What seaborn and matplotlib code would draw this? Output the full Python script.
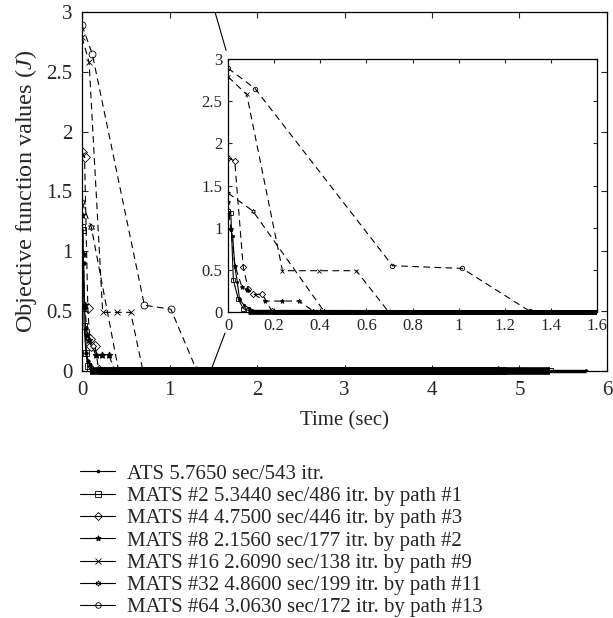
import matplotlib
matplotlib.use("Agg")
import matplotlib.pyplot as plt
from matplotlib.lines import Line2D
from matplotlib.transforms import Bbox, TransformedBbox
import seaborn as sns

# convergence traces: time (sec) vs objective function value J
ats_t = [0, 0.012, 0.02, 0.03, 0.04, 0.05, 0.07, 0.09, 0.12, 5.765]
ats_j = [0.99, 0.97, 0.90, 0.53, 0.36, 0.15, 0.08, 0.05, 0.01, 0.0]

mats2_t = [0, 0.012, 0.023, 0.045, 0.066, 0.088, 5.344]
mats2_j = [1.20, 1.18, 0.38, 0.15, 0.04, 0.02, 0.0]

mats4_t = [0, 0.029, 0.066, 0.088, 0.107, 0.149, 0.19, 4.75]
mats4_j = [1.83, 1.79, 0.53, 0.27, 0.21, 0.21, 0.01, 0.0]

mats8_t = [0, 0.012, 0.03, 0.06, 0.084, 0.16, 0.233, 0.308, 0.37, 2.156]
mats8_j = [1.30, 0.98, 0.55, 0.30, 0.26, 0.13, 0.13, 0.13, 0.01, 0.0]

mats16_t = [0, 0.081, 0.236, 0.396, 0.556, 0.694, 2.609]
mats16_j = [2.79, 2.58, 0.49, 0.49, 0.49, 0.01, 0.0]

mats32_t = [0, 0.107, 0.416, 4.86]
mats32_j = [1.41, 1.20, 0.01, 0.0]

mats64_t = [0, 0.117, 0.713, 1.015, 1.308, 3.063]
mats64_j = [2.89, 2.65, 0.549, 0.517, 0.01, 0.0]

labels = [
    "ATS 5.7650 sec/543 itr.",
    "MATS #2 5.3440 sec/486 itr. by path #1",
    "MATS #4 4.7500 sec/446 itr. by path #3",
    "MATS #8 2.1560 sec/177 itr. by path #2",
    "MATS #16 2.6090 sec/138 itr. by path #9",
    "MATS #32 4.8600 sec/199 itr. by path #11",
    "MATS #64 3.0630 sec/172 itr. by path #13",
]

series = [
    (ats_t, ats_j, ".", "-"),
    (mats2_t, mats2_j, "s", "-"),
    (mats4_t, mats4_j, "D", "dash"),
    (mats8_t, mats8_j, (5, 1, 0), "dash"),
    (mats16_t, mats16_j, "x", "dash"),
    (mats32_t, mats32_j, (6, 1, 0), "dash"),
    (mats64_t, mats64_j, "o", "dash"),
]

sns.set_theme(style="ticks")
plt.rcParams["font.family"] = ["Liberation Serif", "DejaVu Serif"]
plt.rcParams["mathtext.fontset"] = "custom"
plt.rcParams["mathtext.rm"] = "Liberation Serif"
plt.rcParams["mathtext.it"] = "Liberation Serif:italic"

fig = plt.figure(figsize=(6.13, 6.18), dpi=100)
ax = fig.add_axes([0.1338, 0.3997, 0.8564, 0.5809])
axin = fig.add_axes([0.372, 0.4951, 0.602, 0.4094])


def draw(a, ms, tail_lw):
    # let the zero band spill over the bottom spine but not past the sides
    clip = TransformedBbox(Bbox([[0, -0.1], [1, 1.1]]), a.transAxes)
    for i, (t, j, mk, ls) in enumerate(series):
        style = "-" if ls == "-" else (0, (6, 4))
        face = "black" if mk in (".", (5, 1, 0)) else "none"
        sns.lineplot(x=t, y=j, ax=a, color="black", linewidth=0.8,
                     linestyle=style, marker=mk, markersize=ms,
                     markerfacecolor=face, markeredgecolor="black",
                     markeredgewidth=0.6, estimator=None, sort=False)
        # long flat tail of iterations sitting at J = 0
        tail, = a.plot(t[-2:], [0, 0], color="black",
                       linewidth=tail_lw if i > 0 else tail_lw * 0.45,
                       solid_capstyle="butt", zorder=3)
        tail.set_clip_box(clip)


draw(ax, 5, 5.5)
draw(axin, 3.2, 3.4)

# main axes
ax.set_xlim(0, 6)
ax.set_ylim(0, 3)
ax.set_xticks(range(7))
ax.set_yticks([0, 0.5, 1, 1.5, 2, 2.5, 3])
ax.set_yticklabels(["0", "0.5", "1", "1.5", "2", "2.5", "3"])
ax.tick_params(direction="in", top=True, right=True, length=4,
               labelsize=15, pad=7, width=0.8)
ax.set_xlabel("Time (sec)", fontsize=15, labelpad=8)
ax.set_ylabel("Objective function values ($J$)", fontsize=17.5, labelpad=5)
for s in ax.spines.values():
    s.set_linewidth(0.9)
    s.set_color("black")

# zoom connector lines
ax.plot([1.52, 1.646], [3.0, 2.68], color="black", linewidth=0.8, zorder=1)
ax.plot([1.486, 1.634], [0.03, 0.317], color="black", linewidth=0.8, zorder=1)

# inset
axin.set_xlim(0, 1.6)
axin.set_ylim(0, 3)
axin.set_xticks([0, 0.2, 0.4, 0.6, 0.8, 1, 1.2, 1.4, 1.6])
axin.set_xticklabels(["0", "0.2", "0.4", "0.6", "0.8", "1", "1.2", "1.4", "1.6"])
axin.set_yticks([0, 0.5, 1, 1.5, 2, 2.5, 3])
axin.set_yticklabels(["0", "0.5", "1", "1.5", "2", "2.5", "3"])
axin.tick_params(direction="in", top=True, right=True, length=3,
                 labelsize=12, pad=4, width=0.8)
axin.set_xlabel("")
axin.set_ylabel("")
axin.set_facecolor("white")
for s in axin.spines.values():
    s.set_linewidth(0.9)
    s.set_color("black")

handles = [Line2D([], [], color="black", linewidth=0.8, marker=mk,
                  markersize=4, markeredgewidth=0.6,
                  markerfacecolor="black" if mk in (".", (5, 1, 0)) else "none",
                  markeredgecolor="black")
           for (_, _, mk, _) in series]
fig.legend(handles, labels, loc="upper left", bbox_to_anchor=(0.1305, 0.249),
           frameon=False, fontsize=15, handlelength=1.7, handletextpad=0.55,
           labelspacing=0.13, borderpad=0, borderaxespad=0)

fig.savefig("out.png", dpi=100)
